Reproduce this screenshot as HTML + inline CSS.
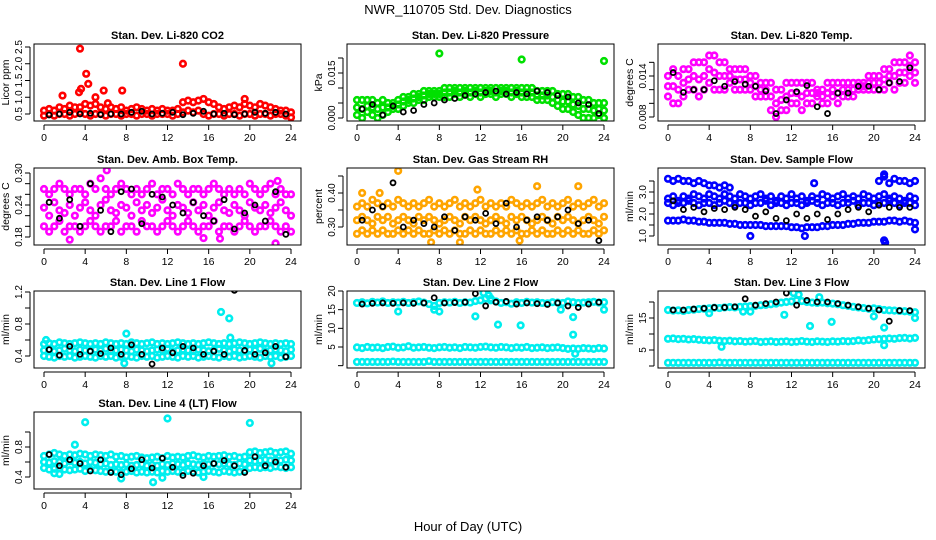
<!DOCTYPE html>
<html><head><meta charset="utf-8"><style>
html,body{margin:0;padding:0;background:#fff;}
svg{display:block;font-family:"Liberation Sans",sans-serif;}
</style></head><body>
<svg id="chart" width="936" height="540" viewBox="0 0 936 540">
<text x="468" y="14" text-anchor="middle" font-size="13">NWR_110705  Std. Dev. Diagnostics</text>
<text x="468" y="531" text-anchor="middle" font-size="13">Hour of Day (UTC)</text>
</svg>
<script>
const halfHours=[0,0.5,1,1.5,2,2.5,3,3.5,4,4.5,5,5.5,6,6.5,7,7.5,8,8.5,9,9.5,10,10.5,11,11.5,12,12.5,13,13.5,14,14.5,15,15.5,16,16.5,17,17.5,18,18.5,19,19.5,20,20.5,21,21.5,22,22.5,23,23.5,24];
const blackHours=[0.5,1.5,2.5,3.5,4.5,5.5,6.5,7.5,8.5,9.5,10.5,11.5,12.5,13.5,14.5,15.5,16.5,17.5,18.5,19.5,20.5,21.5,22.5,23.5];
const xTicks=[0,4,8,12,16,20,24];

// Panel 1: CO2
const co2Upper=[0.6,0.65,0.6,0.7,0.65,0.75,0.7,0.7,0.8,0.75,0.8,0.7,0.65,0.7,0.65,0.7,0.6,0.65,0.7,0.65,0.6,0.65,0.6,0.65,0.6,0.6,0.65,0.85,0.9,0.85,0.9,0.95,0.85,0.8,0.7,0.65,0.7,0.75,0.7,0.8,0.75,0.7,0.8,0.75,0.7,0.65,0.6,0.6,0.55];
const co2Lower=[0.45,0.5,0.45,0.5,0.5,0.45,0.5,0.55,0.5,0.45,0.5,0.5,0.45,0.5,0.5,0.45,0.5,0.5,0.45,0.5,0.5,0.45,0.5,0.5,0.5,0.45,0.5,0.55,0.6,0.55,0.6,0.5,0.45,0.5,0.5,0.45,0.5,0.5,0.45,0.5,0.5,0.45,0.5,0.5,0.45,0.5,0.5,0.45,0.4];
const co2OutHours=[1.8,3.4,3.6,3.5,4.1,4.3,5.8,7.6,13.5,19.5,5,6.2];
const co2OutValues=[1.05,1.15,1.25,2.45,1.7,1.4,1.2,1.2,2.0,0.95,1.0,0.82];
const co2Black=[0.47,0.5,0.55,0.5,0.52,0.48,0.5,0.5,0.55,0.58,0.5,0.52,0.55,0.48,0.52,0.58,0.5,0.52,0.48,0.5,0.55,0.52,0.55,0.5];

// Panel 2: Pressure
const presUpper=[0.006,0.006,0.006,0.006,0.005,0.006,0.005,0.005,0.006,0.007,0.007,0.008,0.008,0.009,0.009,0.009,0.009,0.010,0.010,0.010,0.010,0.010,0.010,0.010,0.010,0.010,0.010,0.010,0.010,0.010,0.010,0.010,0.010,0.010,0.010,0.009,0.009,0.009,0.009,0.008,0.008,0.008,0.007,0.007,0.006,0.006,0.005,0.005,0.005];
const presMid=[0.0035,0.003,0.004,0.0035,0.003,0.0035,0.0035,0.004,0.0045,0.0055,0.006,0.0065,0.007,0.0075,0.008,0.008,0.008,0.0085,0.0085,0.009,0.0085,0.009,0.0085,0.009,0.0085,0.009,0.009,0.0085,0.009,0.009,0.0085,0.009,0.0085,0.0085,0.0085,0.0075,0.0075,0.0075,0.007,0.006,0.0055,0.0055,0.0045,0.004,0.003,0.003,0.0025,0.003,0.0025];
const presLower=[0.001,0.000,0.002,0.001,0.000,0.001,0.002,0.003,0.003,0.004,0.005,0.005,0.006,0.006,0.007,0.007,0.007,0.007,0.007,0.008,0.007,0.008,0.007,0.008,0.007,0.008,0.008,0.007,0.008,0.008,0.007,0.008,0.007,0.007,0.007,0.006,0.006,0.006,0.005,0.004,0.003,0.003,0.002,0.001,0.000,0.000,0.000,0.001,0.000];
const presOutHours=[8,16,24];
const presOutValues=[0.0215,0.0195,0.019];
const presBlack=[0.003,0.0045,0.001,0.004,0.002,0.0025,0.0045,0.005,0.006,0.0065,0.0075,0.008,0.0085,0.009,0.008,0.0085,0.008,0.009,0.0085,0.0075,0.007,0.005,0.0045,0.0015];

// Panel 3: Li-820 Temp
const tempUpper=[0.014,0.015,0.014,0.015,0.015,0.016,0.016,0.016,0.017,0.017,0.016,0.016,0.015,0.015,0.015,0.015,0.014,0.014,0.013,0.013,0.013,0.012,0.012,0.013,0.013,0.013,0.013,0.013,0.013,0.012,0.012,0.013,0.013,0.013,0.013,0.013,0.013,0.013,0.013,0.014,0.014,0.014,0.015,0.015,0.016,0.016,0.016,0.017,0.016];
const tempMid=[0.0125,0.0125,0.012,0.013,0.0135,0.014,0.0135,0.014,0.015,0.0145,0.014,0.014,0.014,0.0135,0.0135,0.0135,0.013,0.0125,0.012,0.012,0.011,0.010,0.0105,0.011,0.0115,0.0115,0.011,0.0115,0.0115,0.0115,0.011,0.0115,0.012,0.0115,0.012,0.012,0.012,0.0125,0.0125,0.013,0.013,0.013,0.0135,0.014,0.014,0.0145,0.0145,0.0155,0.0145];
const tempLower=[0.011,0.010,0.010,0.011,0.012,0.012,0.011,0.012,0.013,0.012,0.012,0.012,0.013,0.012,0.012,0.012,0.012,0.011,0.011,0.011,0.009,0.008,0.009,0.009,0.010,0.010,0.009,0.010,0.010,0.011,0.010,0.010,0.011,0.010,0.011,0.011,0.011,0.012,0.012,0.012,0.012,0.012,0.012,0.013,0.012,0.013,0.013,0.014,0.013];
const tempBlack=[0.0145,0.0116,0.012,0.012,0.0133,0.0125,0.0132,0.0128,0.0125,0.0118,0.0085,0.0105,0.0117,0.0126,0.0095,0.0085,0.0115,0.0115,0.0125,0.0125,0.012,0.013,0.0132,0.0152];

// Panel 4: Amb Box Temp
const ambUpper=[0.27,0.26,0.27,0.28,0.27,0.26,0.27,0.27,0.26,0.28,0.27,0.29,0.27,0.26,0.27,0.28,0.27,0.26,0.27,0.26,0.27,0.28,0.26,0.27,0.27,0.26,0.28,0.27,0.26,0.27,0.27,0.26,0.27,0.28,0.27,0.26,0.27,0.26,0.27,0.26,0.28,0.27,0.26,0.27,0.28,0.26,0.27,0.26,0.26];
const ambMid=[0.235,0.22,0.245,0.23,0.225,0.24,0.22,0.235,0.245,0.23,0.22,0.24,0.25,0.23,0.225,0.24,0.235,0.22,0.245,0.23,0.24,0.225,0.235,0.25,0.23,0.22,0.24,0.235,0.225,0.245,0.23,0.24,0.22,0.235,0.245,0.23,0.225,0.24,0.23,0.22,0.245,0.235,0.23,0.24,0.225,0.235,0.245,0.23,0.22];
const ambLower=[0.2,0.19,0.2,0.21,0.19,0.2,0.2,0.19,0.2,0.21,0.2,0.19,0.2,0.2,0.21,0.19,0.2,0.2,0.19,0.21,0.2,0.2,0.19,0.2,0.21,0.2,0.19,0.2,0.21,0.2,0.19,0.2,0.2,0.21,0.19,0.2,0.2,0.19,0.2,0.21,0.2,0.19,0.2,0.2,0.21,0.2,0.19,0.2,0.19];
const ambOutHours=[6.1,22.7,22.5,15.5,17.1,2.5];
const ambOutValues=[0.305,0.285,0.168,0.178,0.177,0.175];
const ambBlack=[0.245,0.215,0.25,0.2,0.28,0.23,0.19,0.265,0.27,0.205,0.26,0.255,0.24,0.225,0.245,0.22,0.21,0.25,0.195,0.225,0.24,0.21,0.265,0.185];

// Panel 5: Gas Stream RH
const rhUpper=[0.36,0.37,0.36,0.38,0.37,0.36,0.37,0.36,0.38,0.37,0.36,0.37,0.36,0.37,0.38,0.36,0.37,0.36,0.37,0.38,0.36,0.37,0.36,0.37,0.38,0.36,0.37,0.36,0.37,0.36,0.38,0.37,0.36,0.37,0.36,0.37,0.38,0.36,0.37,0.36,0.37,0.38,0.36,0.37,0.36,0.37,0.38,0.36,0.37];
const rhMid=[0.32,0.33,0.32,0.31,0.33,0.32,0.33,0.31,0.32,0.33,0.32,0.31,0.33,0.32,0.33,0.32,0.31,0.32,0.33,0.32,0.31,0.33,0.32,0.33,0.32,0.31,0.32,0.33,0.32,0.31,0.33,0.32,0.33,0.32,0.31,0.32,0.33,0.32,0.31,0.33,0.32,0.33,0.32,0.31,0.32,0.33,0.32,0.31,0.33];
const rhLower=[0.28,0.29,0.28,0.29,0.28,0.29,0.28,0.28,0.29,0.28,0.29,0.28,0.29,0.28,0.28,0.29,0.28,0.29,0.28,0.29,0.28,0.28,0.29,0.28,0.29,0.28,0.28,0.29,0.28,0.29,0.28,0.29,0.28,0.28,0.29,0.28,0.29,0.28,0.28,0.29,0.28,0.29,0.28,0.29,0.28,0.28,0.29,0.28,0.29];
const rhOutHours=[4,0.5,2.2,11.7,17.5,21.5,7.2,10,15.8];
const rhOutValues=[0.465,0.4,0.4,0.41,0.42,0.42,0.255,0.255,0.26];
const rhBlack=[0.32,0.35,0.36,0.43,0.3,0.32,0.31,0.3,0.33,0.29,0.33,0.32,0.34,0.31,0.37,0.3,0.32,0.33,0.32,0.33,0.35,0.31,0.32,0.26];

// Panel 6: Sample Flow
const flowTopHours=[0,0.5,1,1.5,2,2.5,3,3.5,4,4.5,5,5.5,6,20.5,21,21.5,22,22.5,23,23.5,24];
const flowTop=[3.6,3.5,3.6,3.5,3.5,3.4,3.5,3.4,3.3,3.3,3.2,3.3,3.2,3.5,3.7,3.4,3.6,3.5,3.5,3.4,3.5];
const flowMidA=[2.7,2.8,2.6,2.8,2.7,2.9,2.8,2.7,2.9,2.8,2.7,2.9,2.8,2.7,2.9,2.8,2.7,2.8,2.9,2.7,2.8,2.6,2.8,2.7,2.9,2.7,2.8,2.6,2.8,2.7,2.9,2.8,2.7,2.8,2.9,2.7,2.8,2.7,2.9,2.8,2.7,2.8,2.9,2.7,2.8,2.7,2.6,2.8,2.7];
const flowMidB=[2.5,2.4,2.5,2.5,2.6,2.5,2.4,2.5,2.5,2.4,2.5,2.6,2.5,2.4,2.5,2.5,2.4,2.5,2.5,2.6,2.4,2.5,2.5,2.4,2.5,2.5,2.4,2.5,2.6,2.5,2.4,2.5,2.5,2.4,2.5,2.5,2.6,2.4,2.5,2.5,2.4,2.5,2.5,2.6,2.5,2.4,2.5,2.5,2.4];
const flowLow=[1.7,1.7,1.7,1.75,1.7,1.7,1.65,1.65,1.6,1.6,1.6,1.6,1.55,1.55,1.5,1.5,1.5,1.5,1.5,1.45,1.45,1.45,1.45,1.45,1.4,1.4,1.35,1.4,1.4,1.4,1.45,1.45,1.5,1.5,1.5,1.55,1.55,1.6,1.6,1.6,1.65,1.65,1.65,1.7,1.7,1.65,1.7,1.65,1.6];
const flowOutHours=[8,13.3,21,21.1,24,21,14.2];
const flowOutValues=[1.0,1.0,0.8,0.7,1.3,3.8,3.4];
const flowBlack=[2.6,2.2,2.3,2.1,2.25,2.2,2.3,2.2,1.9,2.1,1.8,1.7,2.0,1.8,2.0,1.75,2.0,2.2,2.3,2.1,2.4,2.3,2.3,2.3];

// Panel 7: Line 1 Flow
const l1Upper=[0.55,0.56,0.55,0.57,0.56,0.55,0.56,0.57,0.56,0.55,0.56,0.55,0.57,0.56,0.55,0.56,0.55,0.57,0.56,0.55,0.56,0.57,0.55,0.56,0.55,0.56,0.57,0.56,0.55,0.56,0.55,0.56,0.57,0.56,0.55,0.56,0.55,0.56,0.57,0.56,0.55,0.56,0.57,0.56,0.55,0.56,0.55,0.56,0.55];
const l1Mid=[0.47,0.48,0.46,0.47,0.49,0.47,0.46,0.48,0.47,0.46,0.48,0.47,0.49,0.46,0.47,0.48,0.47,0.46,0.48,0.47,0.46,0.47,0.48,0.47,0.49,0.46,0.47,0.48,0.47,0.46,0.48,0.47,0.46,0.47,0.49,0.47,0.46,0.48,0.47,0.46,0.48,0.47,0.49,0.46,0.47,0.48,0.47,0.46,0.48];
const l1Lower=[0.4,0.39,0.38,0.4,0.39,0.4,0.38,0.39,0.4,0.39,0.38,0.4,0.39,0.4,0.38,0.39,0.4,0.39,0.38,0.4,0.39,0.4,0.38,0.39,0.4,0.39,0.38,0.4,0.39,0.4,0.38,0.39,0.4,0.39,0.38,0.4,0.39,0.4,0.38,0.39,0.4,0.39,0.38,0.4,0.39,0.4,0.38,0.39,0.4];
const l1OutHours=[17.2,18,18.1,8,0.2,22.1,7.8];
const l1OutValues=[0.95,0.87,0.63,0.68,0.6,0.31,0.31];
const l1Black=[0.48,0.41,0.52,0.42,0.46,0.43,0.5,0.42,0.54,0.42,0.3,0.5,0.44,0.52,0.5,0.42,0.46,0.42,1.22,0.47,0.42,0.44,0.52,0.39];

// Panel 8: Line 2 Flow
const l2Top=[16.8,17,16.7,17.1,16.9,17.2,16.8,17,16.9,17.1,16.8,17,17.2,16.9,16.5,16,16.8,17,16.9,17.1,16.8,17,16.9,17.3,17.5,18,17.5,17.2,16.8,17,16.6,17,16.8,17.1,16.9,17,16.8,16.7,17,16.9,16.8,17.2,17,16.8,16.9,17,17.1,16.9,17];
const l2MidBand=[4.9,4.7,5,4.8,4.9,4.7,5,5.1,4.8,4.9,5.2,4.8,4.9,5,4.8,4.7,4.9,5,4.8,4.9,4.7,5,4.9,4.8,5,5.1,4.9,4.8,5,4.9,4.7,4.9,4.8,5,4.7,4.8,4.9,4.7,4.8,4.9,4.7,4.5,4.6,4.5,4.7,4.6,4.5,4.7,4.6];
const l2LowBand=[1,1,1,1,1,1,1,1.1,1,1,1,1,1,1,1.2,1,1,1,1,1,1,1,1,1,1,1,1,1,1,1,1,1,1,1,1,1,1,1,1,1,1,1,1,1,1,1,1,1,1];
const l2OutHours=[4,7.5,8,11.5,12.3,13.7,15.9,19.8,21,21,24,13,12.8,21.2];
const l2OutValues=[14.5,15,14.5,13.2,19.5,11,10.8,15,8.3,13,15,18,18.8,3.2];
const l2Black=[16.5,16.7,16.8,16.7,16.8,16.7,16.8,18.2,16.8,16.9,17,19.3,16,17,17.2,16.5,16.8,16.6,16.4,16.8,16,15.6,16.5,17];

// Panel 9: Line 3 Flow
const l3Top=[17.5,17.3,17.4,17.2,17.5,17.6,17.8,17.9,18,18.2,18.1,18.3,18.4,18.3,18.5,18.6,18.7,18.8,19,19.1,19.3,19.5,19.8,20,20.2,20.5,20.3,20,19.8,19.7,19.8,19.6,19.5,19.3,19,18.8,18.5,18.3,18.1,17.9,18,17.8,17.5,17.4,17.3,17.2,17.1,17,16.8];
const l3MidBand=[8.5,8.6,8.4,8.5,8.3,8.4,8.2,8.1,8,8.1,7.9,7.8,7.9,7.7,7.8,7.6,7.7,7.8,7.5,7.6,7.7,7.5,7.6,7.7,7.5,7.6,7.8,7.6,7.5,7.7,7.6,7.5,7.7,7.6,7.8,7.7,7.8,8,7.9,8.1,8.3,8.4,8.5,8.6,8.5,8.7,8.8,8.6,8.8];
const l3LowBand=[1,1,1,1,1,1,1,1,1,1,1.1,1,1,1,1,1,1,1,1,1,1,1,1,1,1,1,1,1,1,1,1,1,1,1,1,1,1,1,1,1,1,1,1,1,1,1,1,1,1];
const l3OutHours=[4,8,7.3,5.2,13.8,15.9,20,21,21,24,11.3,12.2,14.7,12.7];
const l3OutValues=[16.5,17,17,6,12.5,13.8,15.5,12,6.5,15,16,22.8,21.5,22.3];
const l3Black=[17.5,17.5,17.8,18,18.3,18.3,18.5,21,19,19.5,20,22.8,19,20.5,20,20,19.5,19,18.5,18,17.5,14,17.3,17.3];

// Panel 10: Line 4 (LT) Flow
const l4Upper=[0.68,0.7,0.72,0.7,0.68,0.7,0.69,0.71,0.7,0.68,0.7,0.69,0.68,0.7,0.67,0.68,0.66,0.67,0.68,0.66,0.65,0.66,0.67,0.65,0.68,0.66,0.67,0.66,0.68,0.69,0.67,0.66,0.68,0.67,0.68,0.69,0.67,0.68,0.66,0.67,0.73,0.74,0.72,0.73,0.74,0.72,0.73,0.74,0.71];
const l4Mid=[0.6,0.59,0.61,0.6,0.58,0.61,0.59,0.6,0.58,0.6,0.59,0.57,0.58,0.56,0.57,0.56,0.57,0.55,0.56,0.57,0.55,0.56,0.55,0.57,0.56,0.58,0.57,0.56,0.58,0.57,0.56,0.58,0.57,0.58,0.57,0.58,0.57,0.56,0.58,0.57,0.62,0.61,0.62,0.63,0.62,0.63,0.62,0.63,0.62];
const l4Lower=[0.52,0.5,0.51,0.52,0.5,0.49,0.5,0.51,0.48,0.5,0.49,0.48,0.47,0.48,0.47,0.46,0.47,0.48,0.46,0.47,0.46,0.47,0.46,0.48,0.47,0.48,0.47,0.46,0.48,0.47,0.46,0.47,0.48,0.47,0.46,0.48,0.47,0.46,0.47,0.48,0.52,0.53,0.52,0.53,0.52,0.54,0.53,0.52,0.53];
const l4OutHours=[4,12,20,3,10.6,1,1.5,7.5,11.5,15.5];
const l4OutValues=[1.13,1.18,1.12,0.83,0.33,0.45,0.44,0.38,0.39,0.4];
const l4Black=[0.7,0.55,0.63,0.58,0.48,0.63,0.46,0.43,0.51,0.63,0.52,0.65,0.53,0.42,0.45,0.55,0.58,0.62,0.55,0.46,0.67,0.55,0.6,0.53];

const NS="http://www.w3.org/2000/svg";
const svg=document.getElementById('chart');
const COLS=[34,347,658], ROWS=[44,168,291,412], W=267, H=77;
function mk(tag,attrs,parent){const e=document.createElementNS(NS,tag);for(const k in attrs)e.setAttribute(k,attrs[k]);(parent||svg).appendChild(e);return e;}

function panel(o){
  const L=COLS[o.col], T=ROWS[o.row];
  const g=mk('g',{});
  
  
  const xs=h=>L+10+h*(W-20)/24;
  const ys=v=>o.p1+(v-o.v1)*(o.p2-o.p1)/(o.v2-o.v1);
  const clip='clip-'+o.name;
  const cp=mk('clipPath',{id:clip},g);
  mk('rect',{x:L,y:T,width:W,height:H},cp);
  const pts=mk('g',{'clip-path':'url(#'+clip+')'},g);
  function series(hours,vals,color,nm){
    const sg=mk('g',{},pts);
    
    
    const blk=color==='#000';
    for(let i=0;i<vals.length;i++){
      const c=mk('circle',{cx:xs(hours[i]),cy:ys(vals[i]),r:blk?2.5:2.8,fill:'none',stroke:color,'stroke-width':blk?1.8:2.6},sg);
      
      
    }
  }
  o.series.forEach(s=>series(s[0],s[1],s[2],o.name+'-'+s[3]));
  const box=mk('rect',{x:L,y:T,width:W,height:H,fill:'none',stroke:'#000','stroke-width':1},g);
  
  
  const tt=mk('text',{x:L+W/2,y:T-5,'text-anchor':'middle','font-size':11,'font-weight':'bold'},g);
  tt.textContent=o.title;
  
  
  mk('line',{x1:xs(0),x2:xs(24),y1:T+H+4,y2:T+H+4,stroke:'#000'},g);
  xTicks.forEach(t=>{
    mk('line',{x1:xs(t),x2:xs(t),y1:T+H+4,y2:T+H+9,stroke:'#000'},g);
    const lb=mk('text',{x:xs(t),y:T+H+20,'text-anchor':'middle','font-size':10.5},g);
    lb.textContent=t;
    
    
  });
  const yt=o.yTicks;
  mk('line',{x1:L-4,x2:L-4,y1:ys(yt[0]),y2:ys(yt[yt.length-1]),stroke:'#000'},g);
  yt.forEach((t,i)=>{
    mk('line',{x1:L-9,x2:L-4,y1:ys(t),y2:ys(t),stroke:'#000'},g);
    if(o.yLabels[i]){
      const lb=mk('text',{x:L-12,y:ys(t),'text-anchor':'middle','font-size':10,transform:'rotate(-90 '+(L-12)+' '+ys(t)+')'},g);
      lb.textContent=o.yLabels[i];
      
      
    }
  });
  const ya=mk('text',{x:L-25,y:T+H/2,'text-anchor':'middle','font-size':10.5,transform:'rotate(-90 '+(L-25)+' '+(T+H/2)+')'},g);
  ya.textContent=o.ylab;
  
  
}

const RED='#ff0000',GRN='#00e000',MAG='#ff00ff',ORG='#ffa500',BLU='#0000ff',CYN='#00eeee',BLK='#000';
panel({name:'co2',col:0,row:0,title:'Stan. Dev. Li-820 CO2',ylab:'Licor ppm',v1:0.5,p1:114,v2:2.5,p2:47,
  yTicks:[0.5,1,1.5,2,2.5],yLabels:['0.5','1.0','1.5','2.0','2.5'],
  series:[[halfHours,co2Upper,RED,'upper'],[halfHours,co2Lower,RED,'lower'],[co2OutHours,co2OutValues,RED,'outliers'],[blackHours,co2Black,BLK,'hourly']]});
panel({name:'pressure',col:1,row:0,title:'Stan. Dev. Li-820 Pressure',ylab:'kPa',v1:0,p1:118,v2:0.015,p2:73,
  yTicks:[0,0.005,0.01,0.015,0.02],yLabels:['0.000','','','0.015',''],
  series:[[halfHours,presUpper,GRN,'upper'],[halfHours,presMid,GRN,'mid'],[halfHours,presLower,GRN,'lower'],[presOutHours,presOutValues,GRN,'outliers'],[blackHours,presBlack,BLK,'hourly']]});
panel({name:'li820-temp',col:2,row:0,title:'Stan. Dev. Li-820 Temp.',ylab:'degrees C',v1:0.008,p1:117,v2:0.014,p2:76,
  yTicks:[0.008,0.010,0.012,0.014,0.016],yLabels:['0.008','','','0.014',''],
  series:[[halfHours,tempUpper,MAG,'upper'],[halfHours,tempMid,MAG,'mid'],[halfHours,tempLower,MAG,'lower'],[blackHours,tempBlack,BLK,'hourly']]});
panel({name:'amb-temp',col:0,row:1,title:'Stan. Dev. Amb. Box Temp.',ylab:'degrees C',v1:0.18,p1:237,v2:0.30,p2:173,
  yTicks:[0.18,0.2,0.22,0.24,0.26,0.28,0.3],yLabels:['0.18','','','0.24','','','0.30'],
  series:[[halfHours,ambUpper,MAG,'upper'],[halfHours,ambMid,MAG,'mid'],[halfHours,ambLower,MAG,'lower'],[ambOutHours,ambOutValues,MAG,'outliers'],[blackHours,ambBlack,BLK,'hourly']]});
panel({name:'rh',col:1,row:1,title:'Stan. Dev. Gas Stream RH',ylab:'percent',v1:0.30,p1:227,v2:0.40,p2:193,
  yTicks:[0.3,0.35,0.4,0.45],yLabels:['0.30','','0.40',''],
  series:[[halfHours,rhUpper,ORG,'upper'],[halfHours,rhMid,ORG,'mid'],[halfHours,rhLower,ORG,'lower'],[rhOutHours,rhOutValues,ORG,'outliers'],[blackHours,rhBlack,BLK,'hourly']]});
panel({name:'sample-flow',col:2,row:1,title:'Stan. Dev. Sample Flow',ylab:'ml/min',v1:1.0,p1:236,v2:3.0,p2:192,
  yTicks:[1,1.5,2,2.5,3,3.5],yLabels:['1.0','','2.0','','3.0',''],
  series:[[flowTopHours,flowTop,BLU,'top'],[halfHours,flowMidA,BLU,'mid-a'],[halfHours,flowMidB,BLU,'mid-b'],[halfHours,flowLow,BLU,'low'],[flowOutHours,flowOutValues,BLU,'outliers'],[blackHours,flowBlack,BLK,'hourly']]});
panel({name:'line1',col:0,row:2,title:'Stan. Dev. Line 1 Flow',ylab:'ml/min',v1:0.4,p1:356,v2:1.2,p2:292,
  yTicks:[0.4,0.6,0.8,1.0,1.2],yLabels:['0.4','','0.8','','1.2'],
  series:[[halfHours,l1Upper,CYN,'upper'],[halfHours,l1Mid,CYN,'mid'],[halfHours,l1Lower,CYN,'lower'],[l1OutHours,l1OutValues,CYN,'outliers'],[blackHours,l1Black,BLK,'hourly']]});
panel({name:'line2',col:1,row:2,title:'Stan. Dev. Line 2 Flow',ylab:'ml/min',v1:5,p1:347,v2:20,p2:291,
  yTicks:[0,5,10,15,20],yLabels:['','5','10','15','20'],
  series:[[halfHours,l2Top,CYN,'top'],[halfHours,l2MidBand,CYN,'mid'],[halfHours,l2LowBand,CYN,'low'],[l2OutHours,l2OutValues,CYN,'outliers'],[blackHours,l2Black,BLK,'hourly']]});
panel({name:'line3',col:2,row:2,title:'Stan. Dev. Line 3 Flow',ylab:'ml/min',v1:5,p1:350,v2:15,p2:318,
  yTicks:[0,5,10,15,20],yLabels:['','5','','15',''],
  series:[[halfHours,l3Top,CYN,'top'],[halfHours,l3MidBand,CYN,'mid'],[halfHours,l3LowBand,CYN,'low'],[l3OutHours,l3OutValues,CYN,'outliers'],[blackHours,l3Black,BLK,'hourly']]});
panel({name:'line4',col:0,row:3,title:'Stan. Dev. Line 4 (LT) Flow',ylab:'ml/min',v1:0.4,p1:477,v2:0.8,p2:447,
  yTicks:[0.4,0.6,0.8,1.0],yLabels:['0.4','','0.8',''],
  series:[[halfHours,l4Upper,CYN,'upper'],[halfHours,l4Mid,CYN,'mid'],[halfHours,l4Lower,CYN,'lower'],[l4OutHours,l4OutValues,CYN,'outliers'],[blackHours,l4Black,BLK,'hourly']]});
</script>
</body></html>
